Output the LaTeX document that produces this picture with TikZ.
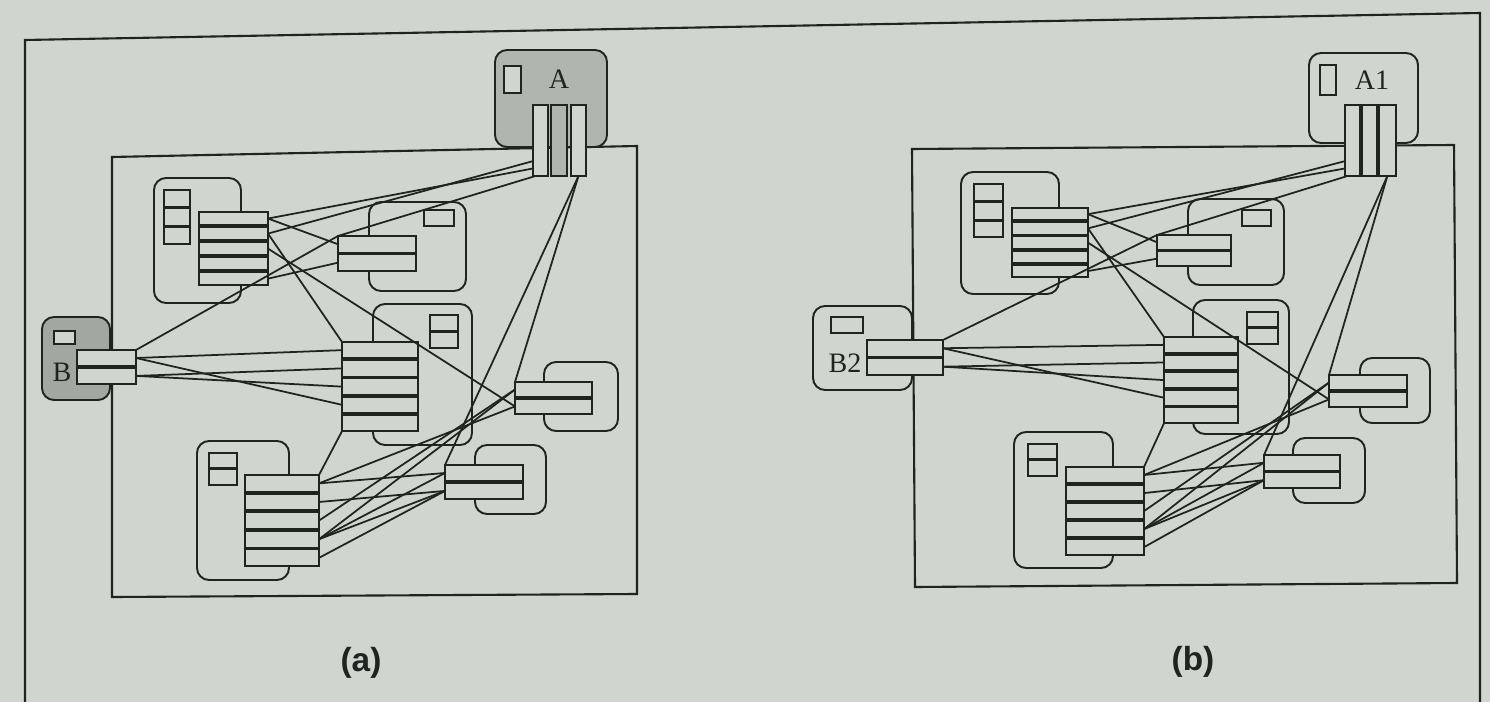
\documentclass[tikz,border=0pt]{standalone}
\usepackage{fontspec}
\setmainfont{Liberation Serif}
\setsansfont{Liberation Sans}
\usetikzlibrary{positioning}

\definecolor{paper}{RGB}{208,213,207}
\definecolor{shade}{RGB}{176,181,175}
\definecolor{shadeB}{RGB}{162,167,161}
\definecolor{ink}{RGB}{32,36,32}

\tikzset{
  card/.style={draw=ink, line width=1.1pt, rounded corners=0.24cm},
  port/.style={draw=ink, fill=paper, line width=1.1pt, inner sep=0pt, outer sep=0pt},
  tab/.style={draw=ink, fill=paper, line width=1.1pt},
  wire/.style={draw=ink, line width=1pt},
  tag/.style={font=\fontsize{16}{18}\selectfont, text=ink, inner sep=0pt},
  caption/.style={font=\sffamily\bfseries\fontsize{19}{22}\selectfont, text=ink},
}

\begin{document}
\begin{tikzpicture}[x=0.02cm, y=-0.02cm, node distance=1.1pt]
    \useasboundingbox (0,0) rectangle (1490,702);
    \fill[paper] (0,0) rectangle (1490,702);
    \draw[ink, line width=1.2pt] (25,702) -- (25,40) -- (1480,13) -- (1480,702);

    % ---------- (a) ----------
    \draw[ink, line width=1.2pt] (112,157) -- (637,146) -- (637,594) -- (112,597) -- cycle;

    \draw[card] (154,178) rectangle (241,303);
    \draw[card] (369,202) rectangle (466,291);
    \draw[card] (373,304) rectangle (472,445);
    \draw[card] (544,362) rectangle (618,431);
    \draw[card] (475,445) rectangle (546,514);
    \draw[card] (197,441) rectangle (289,580);
    \draw[card, fill=shade] (495,50) rectangle (607,147);
    \draw[card, fill=shadeB] (42,317) rectangle (110,400);

    \draw[tab] (164,190) rectangle (190,207) (164,208.5) rectangle (190,225.5) (164,227) rectangle (190,244);
    \draw[tab] (424,210) rectangle (454,226);
    \draw[tab] (430,315) rectangle (458,331) (430,332.5) rectangle (458,348);
    \draw[tab] (209,453) rectangle (237,468) (209,469.5) rectangle (237,485);
    \draw[tab] (504,66) rectangle (521,93);
    \draw[tab] (54,331) rectangle (75,344);

    \node[tag] (atagA) at (559,79) {A};
    \node[tag] (atagB) at (62,372) {B};

    \node[port, minimum width=0.30cm, minimum height=1.42cm, anchor=north west] (aAl) at (533,105) {};
    \node[port, fill=shade, minimum width=0.32cm, minimum height=1.42cm, anchor=north west] (aAm) at (551,105) {};
    \node[port, minimum width=0.30cm, minimum height=1.42cm, anchor=north west] (aAr) at (571,105) {};

    \node[port, minimum width=1.18cm, minimum height=0.32cm, anchor=north west] (aBp1) at (77,350) {};
    \node[port, minimum width=1.18cm, minimum height=0.32cm, below=of aBp1] (aBp2) {};

    \node[port, minimum width=1.38cm, minimum height=0.262cm, anchor=north west] (am1p1) at (199,212) {};
    \node[port, minimum width=1.38cm, minimum height=0.262cm, below=of am1p1] (am1p2) {};
    \node[port, minimum width=1.38cm, minimum height=0.262cm, below=of am1p2] (am1p3) {};
    \node[port, minimum width=1.38cm, minimum height=0.262cm, below=of am1p3] (am1p4) {};
    \node[port, minimum width=1.38cm, minimum height=0.262cm, below=of am1p4] (am1p5) {};

    \node[port, minimum width=1.56cm, minimum height=0.33cm, anchor=north west] (am2p1) at (338,236) {};
    \node[port, minimum width=1.56cm, minimum height=0.33cm, below=of am2p1] (am2p2) {};

    \node[port, minimum width=1.52cm, minimum height=0.326cm, anchor=north west] (am3p1) at (342,342) {};
    \node[port, minimum width=1.52cm, minimum height=0.326cm, below=of am3p1] (am3p2) {};
    \node[port, minimum width=1.52cm, minimum height=0.326cm, below=of am3p2] (am3p3) {};
    \node[port, minimum width=1.52cm, minimum height=0.326cm, below=of am3p3] (am3p4) {};
    \node[port, minimum width=1.52cm, minimum height=0.326cm, below=of am3p4] (am3p5) {};

    \node[port, minimum width=1.54cm, minimum height=0.30cm, anchor=north west] (am4p1) at (515,382) {};
    \node[port, minimum width=1.54cm, minimum height=0.30cm, below=of am4p1] (am4p2) {};

    \node[port, minimum width=1.56cm, minimum height=0.32cm, anchor=north west] (am5p1) at (445,465) {};
    \node[port, minimum width=1.56cm, minimum height=0.32cm, below=of am5p1] (am5p2) {};

    \node[port, minimum width=1.48cm, minimum height=0.334cm, anchor=north west] (am6p1) at (245,475) {};
    \node[port, minimum width=1.48cm, minimum height=0.334cm, below=of am6p1] (am6p2) {};
    \node[port, minimum width=1.48cm, minimum height=0.334cm, below=of am6p2] (am6p3) {};
    \node[port, minimum width=1.48cm, minimum height=0.334cm, below=of am6p3] (am6p4) {};
    \node[port, minimum width=1.48cm, minimum height=0.334cm, below=of am6p4] (am6p5) {};

    \draw[wire] (aAl.255) -- (am1p1.east);
    \draw[wire] (aAl.250) -- (am1p2.east);
    \draw[wire] (aAl.262) -- (am2p1.north west);
    \draw[wire] (aAr.south) -- (am4p1.north west);
    \draw[wire] (aAr.south) -- (am5p1.north west);
    \draw[wire] (am1p1.east) -- (am2p1.west);
    \draw[wire] (am1p5.east) -- (am2p2.west);
    \draw[wire] (am1p2.east) -- (am3p1.north west);
    \draw[wire] (am1p3.east) -- (am4p2.west);
    \draw[wire] (aBp1.north east) -- (am2p1.north west);
    \draw[wire] (aBp1.east) -- (am3p1.west);
    \draw[wire] (aBp1.east) -- (am3p4.west);
    \draw[wire] (aBp2.east) -- (am3p2.west);
    \draw[wire] (aBp2.east) -- (am3p3.west);
    \draw[wire] (am3p5.south west) -- (am6p1.north east);
    \draw[wire] (am6p1.east) -- (am5p1.west);
    \draw[wire] (am6p1.east) -- (am4p2.west);
    \draw[wire] (am6p2.east) -- (am5p2.west);
    \draw[wire] (am6p3.east) -- (am4p1.west);
    \draw[wire] (am6p4.east) -- (am4p1.west);
    \draw[wire] (am6p4.east) -- (am5p1.west);
    \draw[wire] (am6p4.east) -- (am5p2.west);
    \draw[wire] (am6p5.east) -- (am5p2.west);

    \node[caption] (capa) at (361,663) {(a)};

    % ---------- (b) ----------
    \draw[ink, line width=1.2pt] (912,149) -- (1454,145) -- (1457,583) -- (915,587) -- cycle;

    \draw[card] (961,172) rectangle (1059,294);
    \draw[card] (1188,199) rectangle (1284,285);
    \draw[card] (1193,300) rectangle (1289,434);
    \draw[card] (1360,358) rectangle (1430,423);
    \draw[card] (1293,438) rectangle (1365,503);
    \draw[card] (1014,432) rectangle (1113,568);
    \draw[card, fill=paper] (1309,53) rectangle (1418,143);
    \draw[card, fill=paper] (813,306) rectangle (912,390);

    \draw[tab] (974,184) rectangle (1003,201) (974,202.5) rectangle (1003,219.5) (974,221) rectangle (1003,237);
    \draw[tab] (1242,210) rectangle (1271,226);
    \draw[tab] (1247,312) rectangle (1278,327) (1247,328.5) rectangle (1278,344);
    \draw[tab] (1028,444) rectangle (1057,459) (1028,460.5) rectangle (1057,476);
    \draw[tab] (1320,65) rectangle (1336,95);
    \draw[tab] (831,317) rectangle (863,333);

    \node[tag] (btagA) at (1372,80) {A1};
    \node[tag] (btagB) at (845,363) {B2};

    \node[port, minimum width=0.30cm, minimum height=1.42cm, anchor=north west] (bAl) at (1345,105) {};
    \node[port, minimum width=0.30cm, minimum height=1.42cm, right=of bAl] (bAm) {};
    \node[port, minimum width=0.34cm, minimum height=1.42cm, right=of bAm] (bAr) {};

    \node[port, minimum width=1.52cm, minimum height=0.33cm, anchor=north west] (bBp1) at (867,340) {};
    \node[port, minimum width=1.52cm, minimum height=0.33cm, below=of bBp1] (bBp2) {};

    \node[port, minimum width=1.52cm, minimum height=0.246cm, anchor=north west] (bm1p1) at (1012,208) {};
    \node[port, minimum width=1.52cm, minimum height=0.246cm, below=of bm1p1] (bm1p2) {};
    \node[port, minimum width=1.52cm, minimum height=0.246cm, below=of bm1p2] (bm1p3) {};
    \node[port, minimum width=1.52cm, minimum height=0.246cm, below=of bm1p3] (bm1p4) {};
    \node[port, minimum width=1.52cm, minimum height=0.246cm, below=of bm1p4] (bm1p5) {};

    \node[port, minimum width=1.48cm, minimum height=0.29cm, anchor=north west] (bm2p1) at (1157,235) {};
    \node[port, minimum width=1.48cm, minimum height=0.29cm, below=of bm2p1] (bm2p2) {};

    \node[port, minimum width=1.48cm, minimum height=0.314cm, anchor=north west] (bm3p1) at (1164,337) {};
    \node[port, minimum width=1.48cm, minimum height=0.314cm, below=of bm3p1] (bm3p2) {};
    \node[port, minimum width=1.48cm, minimum height=0.314cm, below=of bm3p2] (bm3p3) {};
    \node[port, minimum width=1.48cm, minimum height=0.314cm, below=of bm3p3] (bm3p4) {};
    \node[port, minimum width=1.48cm, minimum height=0.314cm, below=of bm3p4] (bm3p5) {};

    \node[port, minimum width=1.56cm, minimum height=0.30cm, anchor=north west] (bm4p1) at (1329,375) {};
    \node[port, minimum width=1.56cm, minimum height=0.30cm, below=of bm4p1] (bm4p2) {};

    \node[port, minimum width=1.52cm, minimum height=0.31cm, anchor=north west] (bm5p1) at (1264,455) {};
    \node[port, minimum width=1.52cm, minimum height=0.31cm, below=of bm5p1] (bm5p2) {};

    \node[port, minimum width=1.56cm, minimum height=0.322cm, anchor=north west] (bm6p1) at (1066,467) {};
    \node[port, minimum width=1.56cm, minimum height=0.322cm, below=of bm6p1] (bm6p2) {};
    \node[port, minimum width=1.56cm, minimum height=0.322cm, below=of bm6p2] (bm6p3) {};
    \node[port, minimum width=1.56cm, minimum height=0.322cm, below=of bm6p3] (bm6p4) {};
    \node[port, minimum width=1.56cm, minimum height=0.322cm, below=of bm6p4] (bm6p5) {};

    \draw[wire] (bAl.255) -- (bm1p1.east);
    \draw[wire] (bAl.250) -- (bm1p2.east);
    \draw[wire] (bAl.262) -- (bm2p1.north west);
    \draw[wire] (bAr.south) -- (bm4p1.north west);
    \draw[wire] (bAr.south) -- (bm5p1.north west);
    \draw[wire] (bm1p1.east) -- (bm2p1.west);
    \draw[wire] (bm1p5.east) -- (bm2p2.west);
    \draw[wire] (bm1p2.east) -- (bm3p1.north west);
    \draw[wire] (bm1p3.east) -- (bm4p2.west);
    \draw[wire] (bBp1.north east) -- (bm2p1.north west);
    \draw[wire] (bBp1.east) -- (bm3p1.west);
    \draw[wire] (bBp1.east) -- (bm3p4.west);
    \draw[wire] (bBp2.east) -- (bm3p2.west);
    \draw[wire] (bBp2.east) -- (bm3p3.west);
    \draw[wire] (bm3p5.south west) -- (bm6p1.north east);
    \draw[wire] (bm6p1.east) -- (bm5p1.west);
    \draw[wire] (bm6p1.east) -- (bm4p2.west);
    \draw[wire] (bm6p2.east) -- (bm5p2.west);
    \draw[wire] (bm6p3.east) -- (bm4p1.west);
    \draw[wire] (bm6p4.east) -- (bm4p1.west);
    \draw[wire] (bm6p4.east) -- (bm5p1.west);
    \draw[wire] (bm6p4.east) -- (bm5p2.west);
    \draw[wire] (bm6p5.east) -- (bm5p2.west);

    \node[caption] (capb) at (1193,662) {(b)};
\end{tikzpicture}
\end{document}
